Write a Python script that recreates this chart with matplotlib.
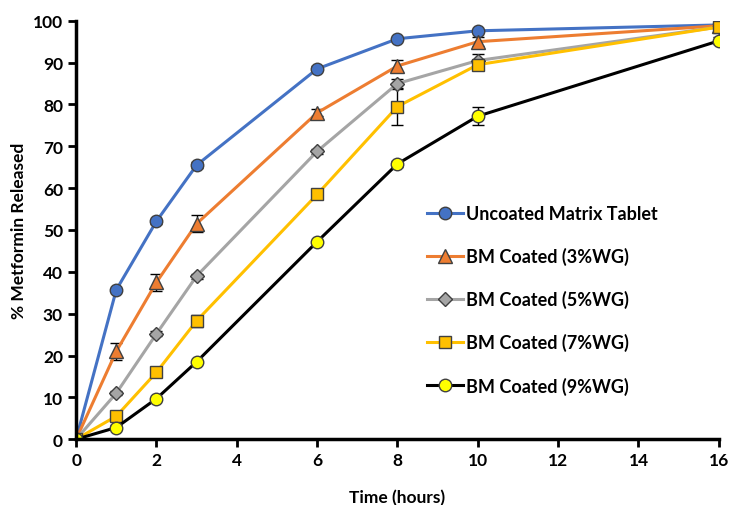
import numpy as np
import matplotlib
matplotlib.use("Agg")
import matplotlib.pyplot as plt
from matplotlib.lines import Line2D

plt.rcParams['font.family'] = ['Lato', 'DejaVu Sans']
plt.rcParams['font.weight'] = 'bold'

# time points (hours)
time = [0, 1, 2, 3, 6, 8, 10, 16]

uncoated = [0, 35.7, 52.1, 65.5, 88.5, 95.7, 97.6, 99.0]
uncoated_err = [0, 0.5, 0.6, 0.7, 0.6, 0.5, 0.5, 0.4]
bm3 = [0, 21.0, 37.5, 51.5, 78.0, 89.2, 95.0, 98.8]
bm3_err = [0, 2.0, 2.0, 2.0, 0.8, 1.4, 1.0, 0.5]
bm5 = [0, 11.0, 25.2, 39.0, 68.8, 85.0, 90.5, 98.5]
bm5_err = [0, 0.5, 0.6, 0.6, 0.6, 1.2, 1.5, 0.5]
bm7 = [0, 5.5, 16.0, 28.3, 58.5, 79.5, 89.5, 98.5]
bm7_err = [0, 0.8, 1.0, 1.5, 1.0, 4.5, 1.0, 0.5]
bm9 = [0, 2.8, 9.7, 18.5, 47.2, 65.8, 77.2, 95.2]
bm9_err = [0, 0.5, 0.5, 0.5, 0.5, 0.8, 2.2, 0.8]

series = [
    ("Uncoated Matrix Tablet", uncoated, uncoated_err, '#4472C4', 'o', '#4472C4', 9),
    ("BM Coated (3%WG)", bm3, bm3_err, '#ED7D31', '^', '#ED7D31', 10),
    ("BM Coated (5%WG)", bm5, bm5_err, '#A5A5A5', 'D', '#A5A5A5', 7),
    ("BM Coated (7%WG)", bm7, bm7_err, '#FFC000', 's', '#FFC000', 9),
    ("BM Coated (9%WG)", bm9, bm9_err, '#000000', 'o', '#FFFF00', 9),
]

fig = plt.figure(figsize=(7.32, 5.06), dpi=100)
ax = fig.add_axes([0.104, 0.130, 0.878, 0.827])

handles = []
for name, vals, err, col, mk, face, ms in series:
    ax.errorbar(time, vals, yerr=err, color=col, lw=2.2, marker=mk, ms=ms,
                mfc=face, mec='#404040', mew=1.0, ecolor='black', elinewidth=1,
                capsize=4, capthick=1)
    # legend shows line + marker only, no error bars
    handles.append(Line2D([], [], color=col, lw=2.2, marker=mk, ms=ms,
                          mfc=face, mec='#404040', mew=1.0, label=name))

ax.set_xlim(0, 16)
ax.set_ylim(0, 100)
ax.set_xticks(np.arange(0, 17, 2))
ax.set_yticks(np.arange(0, 101, 10))
for s in ['top', 'right']:
    ax.spines[s].set_visible(False)
for s in ['left', 'bottom']:
    ax.spines[s].set_linewidth(2.5)
ax.tick_params(width=2, length=6, labelsize=12.5)
ax.set_xlabel("Time (hours)", fontsize=12.5, fontweight='bold', labelpad=15)
ax.set_ylabel("% Metformin Released", fontsize=12.5, fontweight='bold')

ax.legend(handles=handles, loc='lower left', bbox_to_anchor=(0.52, 0.068), frameon=False,
          fontsize=13, labelspacing=1.38, handlelength=2.0, handletextpad=0.2)

fig.savefig("out.png", dpi=100)
